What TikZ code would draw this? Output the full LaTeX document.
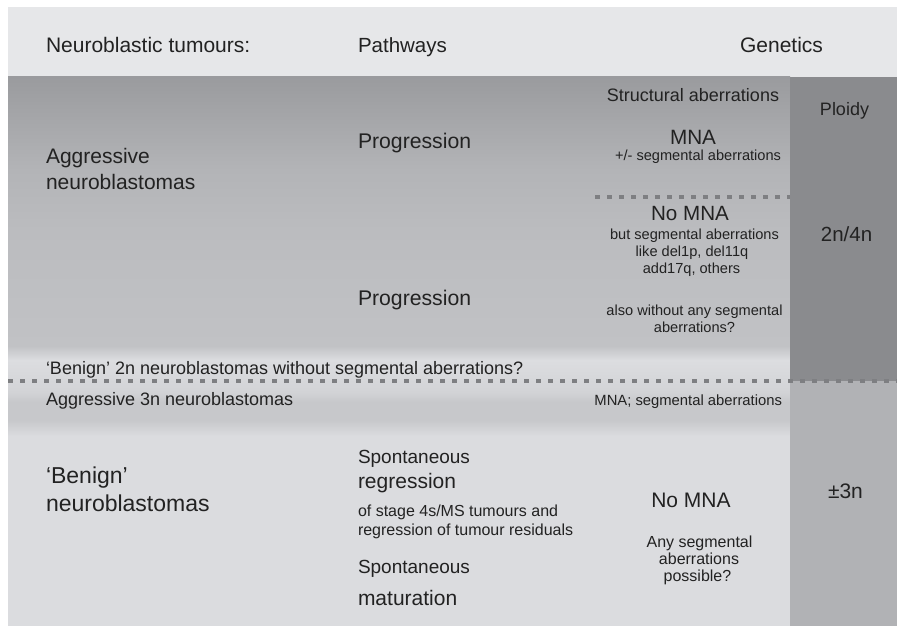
\documentclass[tikz,border=0pt]{standalone}
\usepackage{fontspec}
\setmainfont{Liberation Sans}
\definecolor{hdr}{HTML}{E6E7E9}
\definecolor{upA}{HTML}{9A9B9E}
\definecolor{upB}{HTML}{B3B4B7}
\definecolor{upC}{HTML}{BBBCBF}
\definecolor{upD}{HTML}{C1C2C5}
\definecolor{lgt}{HTML}{DCDDE0}
\definecolor{mid}{HTML}{D2D3D6}
\definecolor{dk}{HTML}{C7C8CB}
\definecolor{low}{HTML}{DBDCDF}
\definecolor{colUp}{HTML}{8A8B8E}
\definecolor{colLow}{HTML}{B1B2B5}
\definecolor{dotc}{HTML}{7E7F82}
\definecolor{txt}{HTML}{222222}
\newcommand\tfs[1]{\fontsize{#1}{#1}\selectfont}
\tikzset{
  lbl/.style={inner sep=0pt, outer sep=0pt, text=txt},
  dotline/.style={draw=dotc, line width=3.5pt, dash pattern=on 4.5pt off 7.5pt},
}
\begin{document}
\begin{tikzpicture}[x=1pt,y=-1pt]
\useasboundingbox (0,0) rectangle (897,626);
% backgrounds
\fill[hdr] (8,7) rectangle (897,77);
\shade[top color=upA, bottom color=upB] (8,77) rectangle (790,170);
\shade[top color=upB, bottom color=upC] (8,170) rectangle (790,230);
\shade[top color=upC, bottom color=upD] (8,230) rectangle (790,346);
\shade[top color=upD, bottom color=lgt] (8,346) rectangle (790,360);
\shade[top color=lgt, bottom color=mid] (8,360) rectangle (790,392);
\shade[top color=mid, bottom color=dk] (8,392) rectangle (790,402);
\fill[dk] (8,402) rectangle (790,420);
\shade[top color=dk, bottom color=low] (8,420) rectangle (790,436);
\fill[low] (8,436) rectangle (790,626);
\fill[colUp] (790,77) rectangle (897,381);
\fill[colLow] (790,381) rectangle (897,626);
% dotted lines
\coordinate (u1) at (595,197);
\coordinate (u2) at (790,197);
\coordinate (l1) at (8,381);
\coordinate (l2) at (897,381);
\draw[dotline] (u1) -- (u2);
\draw[dotline] (l1) -- (l2);
% header
\node[lbl, anchor=base west, font=\tfs{21}] (h1) at (46,53) {Neuroblastic tumours:};
\node[lbl, anchor=base west, font=\tfs{20.5}] (h2) at (358,53) {Pathways};
\node[lbl, anchor=base, font=\tfs{21}] (h3) at (781.5,53) {Genetics};
% left column
\node[lbl, anchor=base west, font=\tfs{21}] (a1) at (46,163) {Aggressive};
\node[lbl, anchor=base west, font=\tfs{21}] (a2) at (46,189) {neuroblastomas};
\node[lbl, anchor=base west, font=\tfs{18}] (b2n) at (46,374) {‘Benign’ 2n neuroblastomas without segmental aberrations?};
\node[lbl, anchor=base west, font=\tfs{18}] (a3n) at (46,405) {Aggressive 3n neuroblastomas};
\node[lbl, anchor=base west, font=\tfs{23}] (bn1) at (46,483) {‘Benign’};
\node[lbl, anchor=base west, font=\tfs{23}] (bn2) at (46,511) {neuroblastomas};
% pathways
\node[lbl, anchor=base west, font=\tfs{21.2}] (p1) at (358,148) {Progression};
\node[lbl, anchor=base west, font=\tfs{21.2}] (p2) at (358,305) {Progression};
\node[lbl, anchor=base west, font=\tfs{19}] (s1) at (358,463) {Spontaneous};
\node[lbl, anchor=base west, font=\tfs{21}] (s2) at (358,488) {regression};
\node[lbl, anchor=base west, font=\tfs{16}] (s3) at (358,516) {of stage 4s/MS tumours and};
\node[lbl, anchor=base west, font=\tfs{16}] (s4) at (358,535) {regression of tumour residuals};
\node[lbl, anchor=base west, font=\tfs{19}] (m1) at (358,573) {Spontaneous};
\node[lbl, anchor=base west, font=\tfs{21}] (m2) at (358,605) {maturation};
% genetics
\node[lbl, anchor=base, font=\tfs{18}] (g1) at (693,102) {Structural aberrations};
\node[lbl, anchor=base, font=\tfs{20.7}] (g2) at (693,144) {MNA};
\node[lbl, anchor=base, font=\tfs{14.6}] (g3) at (698,160) {+/- segmental aberrations};
\node[lbl, anchor=base, font=\tfs{20.6}] (g4) at (690,220) {No MNA};
\node[lbl, anchor=base, font=\tfs{14.6}] (g5) at (694.5,239) {but segmental aberrations};
\node[lbl, anchor=base, font=\tfs{14.6}] (g6) at (692,256) {like del1p, del11q};
\node[lbl, anchor=base, font=\tfs{14.6}] (g7) at (691.5,273) {add17q, others};
\node[lbl, anchor=base, font=\tfs{14.6}] (g8) at (694.5,315) {also without any segmental};
\node[lbl, anchor=base, font=\tfs{14.6}] (g9) at (694.5,332) {aberrations?};
\node[lbl, anchor=base east, font=\tfs{14.8}] (g10) at (782,405) {MNA; segmental aberrations};
\node[lbl, anchor=base, font=\tfs{21}] (g11) at (691,507) {No MNA};
\node[lbl, anchor=base, font=\tfs{16}] (g12) at (699.5,547) {Any segmental};
\node[lbl, anchor=base, font=\tfs{16}] (g13) at (699,564) {aberrations};
\node[lbl, anchor=base, font=\tfs{16}] (g14) at (697.5,581) {possible?};
% ploidy
\node[lbl, anchor=base, font=\tfs{18}] (pl) at (844.5,115) {Ploidy};
\node[lbl, anchor=base, font=\tfs{20.5}] (pl2) at (846.5,241) {2n/4n};
\node[lbl, anchor=base west, font=\tfs{21}] (pl3) at (828,498) {±3n};
\end{tikzpicture}
\end{document}
